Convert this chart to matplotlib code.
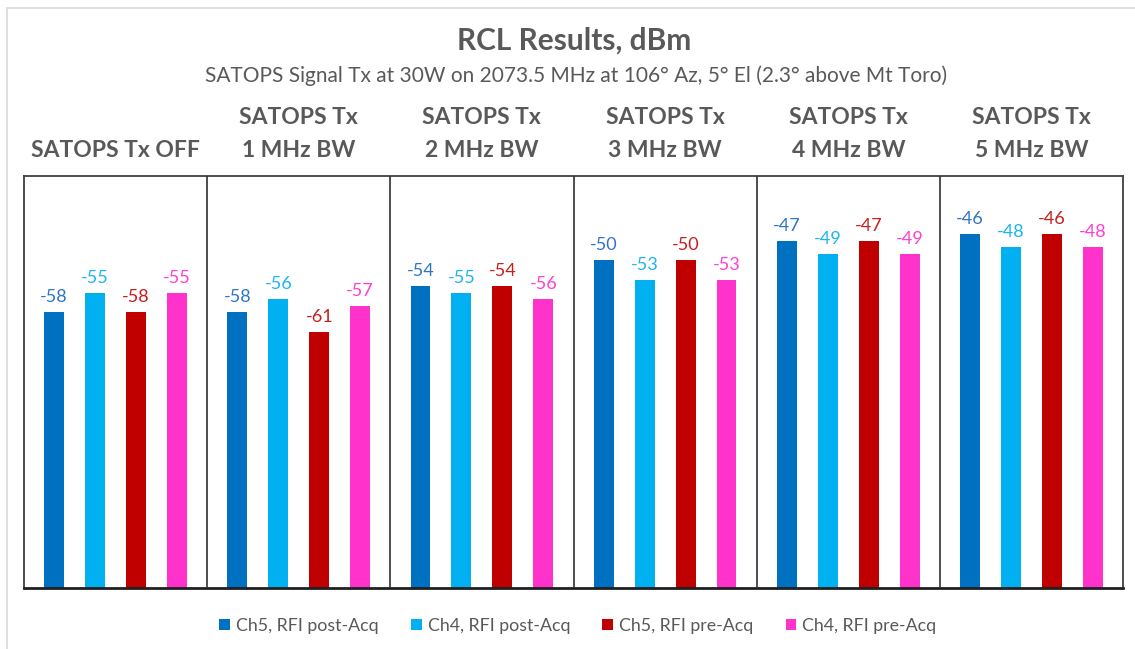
import matplotlib
matplotlib.use("Agg")
import matplotlib.pyplot as plt
from matplotlib.patches import Rectangle
import numpy as np

plt.rcParams['font.family'] = ['Lato', 'DejaVu Sans']

groups = ["SATOPS Tx OFF", "SATOPS Tx\n1 MHz BW", "SATOPS Tx\n2 MHz BW",
          "SATOPS Tx\n3 MHz BW", "SATOPS Tx\n4 MHz BW", "SATOPS Tx\n5 MHz BW"]
series_names = ["Ch5, RFI post-Acq", "Ch4, RFI post-Acq", "Ch5, RFI pre-Acq", "Ch4, RFI pre-Acq"]
ch5_post = [-58, -58, -54, -50, -47, -46]
ch4_post = [-55, -56, -55, -53, -49, -48]
ch5_pre = [-58, -61, -54, -50, -47, -46]
ch4_pre = [-55, -57, -56, -53, -49, -48]
series = [ch5_post, ch4_post, ch5_pre, ch4_pre]
colors = ["#0070C0", "#00B0F0", "#C00000", "#FF33CC"]
label_colors = ["#2E75C6", "#1CB5F0", "#C81E1E", "#FF40D0"]

title = "RCL Results, dBm"
subtitle = "SATOPS Signal Tx at 30W on 2073.5 MHz at 106° Az, 5° El (2.3° above Mt Toro)"

W, H = 1135, 649
fig = plt.figure(figsize=(W / 100, H / 100), dpi=100)
fig.patch.set_facecolor("white")

# outer chart-area border
fig.add_artist(Rectangle((7 / W, -0.1), 1.2, 1 - 8 / H + 0.1, transform=fig.transFigure,
                         fill=False, edgecolor="#D9D9D9", linewidth=1.2))

ax = fig.add_axes([24 / W, 1 - 588 / H, (1123 - 24) / W, (588 - 176) / H])
ymin, ymax = -100.4, -37.0
ax.set_ylim(ymin, ymax)
ax.set_xlim(-0.5, len(groups) - 0.5)

x = np.arange(len(groups))
spacing = 0.2235
width = 0.109
offsets = (np.arange(4) - 1.5) * spacing
for i, (vals, c, lc, name) in enumerate(zip(series, colors, label_colors, series_names)):
    vals = np.array(vals, dtype=float)
    bars = ax.bar(x + offsets[i], vals - ymin, width=width, bottom=ymin, color=c, label=name, zorder=2)
    for xi, v in zip(x + offsets[i], vals):
        ax.annotate(f"{int(v)}", (xi, v), xytext=(0, 10), textcoords="offset pixels",
                    ha="center", va="baseline", fontsize=13, color=lc)

for s in ax.spines.values():
    s.set_color("#404040")
    s.set_linewidth(1.3)
ax.spines['bottom'].set_color("#202020")
ax.spines['bottom'].set_linewidth(2.0)
for k in range(1, len(groups)):
    ax.axvline(k - 0.5, color="#303030", linewidth=1.2, zorder=3)
ax.set_xticks([])
ax.set_yticks([])

# group headers
for k, g in enumerate(groups):
    xf = (24 + (k + 0.5) * (1123 - 24) / len(groups)) / W
    lines = g.split("\n")
    if len(lines) == 1:
        fig.text(xf, 1 - 157 / H, lines[0], ha="center", va="baseline", fontsize=16.5,
                 fontweight="bold", color="#595959")
    else:
        fig.text(xf, 1 - 124 / H, lines[0], ha="center", va="baseline", fontsize=16.5,
                 fontweight="bold", color="#595959")
        fig.text(xf, 1 - 157 / H, lines[1], ha="center", va="baseline", fontsize=16.5,
                 fontweight="bold", color="#595959")

fig.text(574 / W, 1 - 50 / H, title, ha="center", va="baseline", fontsize=21.5,
         fontweight="bold", color="#595959")
fig.text(576 / W, 1 - 82 / H, subtitle, ha="center", va="baseline", fontsize=15,
         color="#595959")

leg = fig.legend(loc="center", bbox_to_anchor=(578 / W, 1 - 626 / H), ncol=4, frameon=False,
                 fontsize=12.8, handlelength=0.6, handleheight=0.6, handletextpad=0.35,
                 columnspacing=1.8, labelcolor="#595959")

fig.savefig("out.png", dpi=100, facecolor="white")
